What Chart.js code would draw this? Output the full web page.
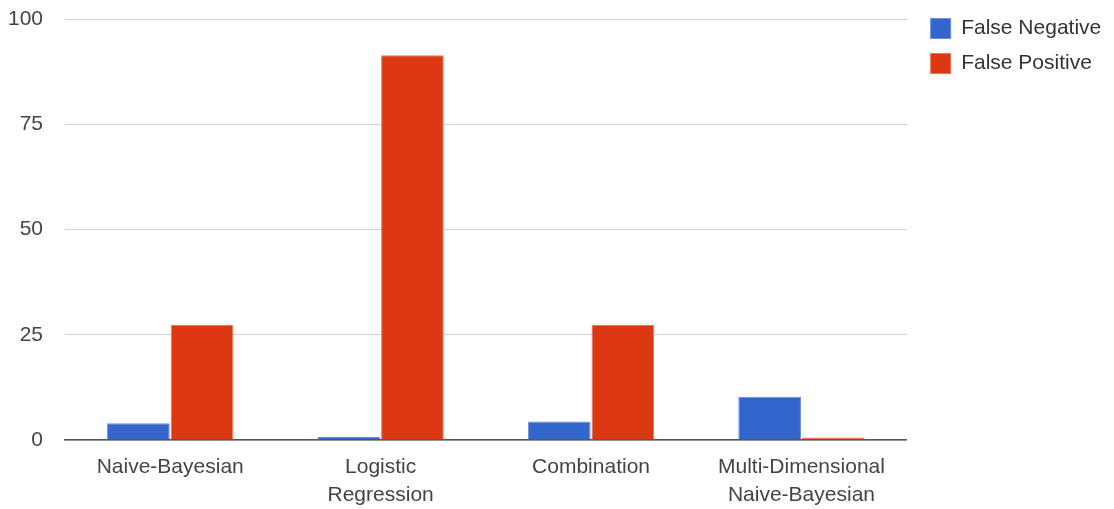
<!DOCTYPE html>
<html>
<head>
<meta charset="utf-8">
<style>
  html, body { margin: 0; padding: 0; background: #ffffff; }
  #wrap { width: 1114px; height: 509px; position: relative; }
</style>
<script src="https://cdn.jsdelivr.net/npm/chart.js@4/dist/chart.umd.min.js"></script>
</head>
<body>
<div id="wrap"><canvas id="chart" width="1114" height="509"></canvas></div>
<script>
// Classifier error rates (%)
const categories = [
  'Naive-Bayesian',
  ['Logistic', 'Regression'],
  'Combination',
  ['Multi-Dimensional', 'Naive-Bayesian']
];
const falseNegative = [4.0, 0.7, 4.4, 10.3];
const falsePositive = [27.3, 91.4, 27.3, 0.6];
const yTicks = [0, 25, 50, 75, 100];

const FONT = "'Liberation Sans', Arial, sans-serif";
const FONT_SIZE = 21;

// Give the right-hand legend a little extra room so its labels are not clipped
const legendRoom = {
  id: 'legendRoom',
  afterInit(chart) {
    const legend = chart.legend;
    if (!legend) return;
    const fit = legend.fit;
    legend.fit = function () {
      fit.call(this);
      this.width += 8;
    };
  }
};

new Chart(document.getElementById('chart'), {
  type: 'bar',
  data: {
    labels: categories,
    datasets: [
      {
        label: 'False Negative',
        data: falseNegative,
        backgroundColor: '#3366cc',
        borderColor: '#6b8fdc',
        borderWidth: 1,
        categoryPercentage: 0.605,
        barPercentage: 0.985
      },
      {
        label: 'False Positive',
        data: falsePositive,
        backgroundColor: '#dc3912',
        borderColor: '#ea7358',
        borderWidth: 1,
        categoryPercentage: 0.605,
        barPercentage: 0.985
      }
    ]
  },
  plugins: [legendRoom],
  options: {
    responsive: false,
    animation: false,
    layout: { autoPadding: false, padding: { top: 4, left: 8, right: 6, bottom: 0 } },
    plugins: {
      tooltip: { enabled: false },
      legend: {
        position: 'right',
        align: 'start',
        labels: {
          boxWidth: 20,
          boxHeight: 20,
          padding: 14,
          color: '#333333',
          font: { family: FONT, size: FONT_SIZE }
        }
      }
    },
    scales: {
      x: {
        grid: { display: false, drawTicks: false },
        border: { display: true, color: '#555555', width: 1.5 },
        ticks: {
          color: '#444444',
          padding: 13,
          maxRotation: 0,
          autoSkip: false,
          font: { family: FONT, size: FONT_SIZE, lineHeight: 1.35 }
        },
        afterFit: (axis) => { axis.height = 69; }
      },
      y: {
        min: 0,
        max: 100,
        afterBuildTicks: (axis) => { axis.ticks = yTicks.map(v => ({ value: v })); },
        grid: { color: '#d0d0d0', drawTicks: false, lineWidth: 1 },
        border: { display: false },
        ticks: {
          color: '#444444',
          padding: 22,
          font: { family: FONT, size: FONT_SIZE }
        },
        afterFit: (axis) => {
          axis.width = 57;
          axis.paddingTop = 19;
          axis.paddingBottom = 0;
        }
      },
      // empty spacer between the plot and the legend
      gap: {
        type: 'linear',
        position: 'right',
        grid: { display: false, drawTicks: false },
        border: { display: false },
        ticks: { display: false },
        afterFit: (axis) => { axis.width = 10; }
      }
    }
  }
});
</script>
</body>
</html>
